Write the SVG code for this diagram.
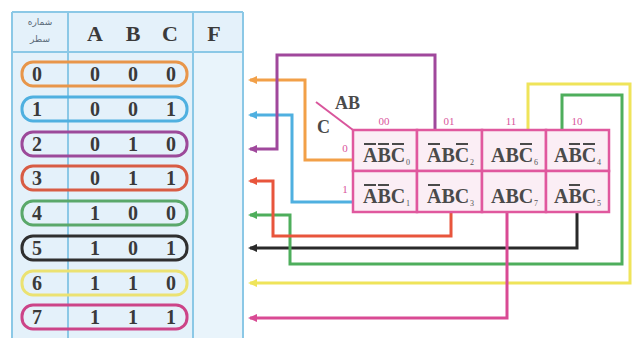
<svg xmlns="http://www.w3.org/2000/svg" width="633" height="343" viewBox="0 0 633 343">
<style>
.tbl{fill:#e4f1fa}
.tl{stroke:#8bc8e6;stroke-width:2;fill:none}
.hd{font-family:"Liberation Serif",serif;font-weight:bold;font-size:22px;fill:#3a3a3a;text-anchor:middle}
.dg{font-family:"Liberation Serif",serif;font-weight:bold;font-size:20px;fill:#3a3a3a;text-anchor:middle}
.fa{font-family:"DejaVu Sans",sans-serif;font-size:9px;fill:#5a6a78;text-anchor:middle}
.pill{fill:none;stroke-width:3}
.cell{fill:#fbeef5;stroke:#e0589e;stroke-width:2.5}
.km{font-family:"Liberation Serif",serif;font-weight:bold;font-size:20px;fill:#4a4a4a}
.sb{font-family:"Liberation Serif",serif;font-size:8px;fill:#555}
.ob{stroke:#4a4a4a;stroke-width:2}
.lb{font-family:"Liberation Serif",serif;font-size:11px;fill:#d9559c;text-anchor:middle}
.ab{font-family:"Liberation Serif",serif;font-weight:bold;font-size:18px;fill:#4a4a4a}
.cn{fill:none;stroke-width:3}
</style>
<defs>
<marker id="aO" markerWidth="9" markerHeight="8" refX="7" refY="4" orient="auto" markerUnits="userSpaceOnUse"><path d="M0,0 L9,4 L0,8 z" fill="#f2a048"/></marker>
<marker id="aB" markerWidth="9" markerHeight="8" refX="7" refY="4" orient="auto" markerUnits="userSpaceOnUse"><path d="M0,0 L9,4 L0,8 z" fill="#4fb0e0"/></marker>
<marker id="aP" markerWidth="9" markerHeight="8" refX="7" refY="4" orient="auto" markerUnits="userSpaceOnUse"><path d="M0,0 L9,4 L0,8 z" fill="#a0489c"/></marker>
<marker id="aR" markerWidth="9" markerHeight="8" refX="7" refY="4" orient="auto" markerUnits="userSpaceOnUse"><path d="M0,0 L9,4 L0,8 z" fill="#e8553c"/></marker>
<marker id="aG" markerWidth="9" markerHeight="8" refX="7" refY="4" orient="auto" markerUnits="userSpaceOnUse"><path d="M0,0 L9,4 L0,8 z" fill="#4eae5c"/></marker>
<marker id="aK" markerWidth="9" markerHeight="8" refX="7" refY="4" orient="auto" markerUnits="userSpaceOnUse"><path d="M0,0 L9,4 L0,8 z" fill="#2a2a2a"/></marker>
<marker id="aY" markerWidth="9" markerHeight="8" refX="7" refY="4" orient="auto" markerUnits="userSpaceOnUse"><path d="M0,0 L9,4 L0,8 z" fill="#efe45a"/></marker>
<marker id="aM" markerWidth="9" markerHeight="8" refX="7" refY="4" orient="auto" markerUnits="userSpaceOnUse"><path d="M0,0 L9,4 L0,8 z" fill="#d94a94"/></marker>
</defs>
<rect width="633" height="343" fill="#ffffff"/>

<g id="table">
<rect class="tbl" x="12" y="12" width="231" height="326"/>
<rect x="193" y="52" width="50" height="286" fill="#e9f4fb"/>
<path class="tl" d="M12,12 H243 M12,52 H243 M12,12 V338 M68,12 V338 M193,12 V338 M243,12 V338"/>
<text class="fa" x="40" y="25">شماره</text>
<text class="fa" x="40" y="42">سطر</text>
<text class="hd" x="95" y="41">A</text>
<text class="hd" x="133" y="41">B</text>
<text class="hd" x="170" y="41">C</text>
<text class="hd" x="214" y="41">F</text>
</g>

<g id="row0"><rect class="pill" stroke="#e8964a" x="22" y="62" width="165" height="24" rx="11"/>
<text class="dg" x="37" y="81">0</text><text class="dg" x="95" y="81">0</text><text class="dg" x="133" y="81">0</text><text class="dg" x="171" y="81">0</text></g>
<g id="row1"><rect class="pill" stroke="#4fb0e0" x="22" y="97" width="165" height="24" rx="11"/>
<text class="dg" x="37" y="116">1</text><text class="dg" x="95" y="116">0</text><text class="dg" x="133" y="116">0</text><text class="dg" x="171" y="116">1</text></g>
<g id="row2"><rect class="pill" stroke="#9c4a9a" x="22" y="132" width="165" height="24" rx="11"/>
<text class="dg" x="37" y="151">2</text><text class="dg" x="95" y="151">0</text><text class="dg" x="133" y="151">1</text><text class="dg" x="171" y="151">0</text></g>
<g id="row3"><rect class="pill" stroke="#d85c44" x="22" y="166" width="165" height="24" rx="11"/>
<text class="dg" x="37" y="185">3</text><text class="dg" x="95" y="185">0</text><text class="dg" x="133" y="185">1</text><text class="dg" x="171" y="185">1</text></g>
<g id="row4"><rect class="pill" stroke="#5aa86a" x="22" y="201" width="165" height="24" rx="11"/>
<text class="dg" x="37" y="220">4</text><text class="dg" x="95" y="220">1</text><text class="dg" x="133" y="220">0</text><text class="dg" x="171" y="220">0</text></g>
<g id="row5"><rect class="pill" stroke="#2f2f2f" x="22" y="236" width="165" height="24" rx="11"/>
<text class="dg" x="37" y="255">5</text><text class="dg" x="95" y="255">1</text><text class="dg" x="133" y="255">0</text><text class="dg" x="171" y="255">1</text></g>
<g id="row6"><rect class="pill" stroke="#ebe272" x="22" y="271" width="165" height="24" rx="11"/>
<text class="dg" x="37" y="290">6</text><text class="dg" x="95" y="290">1</text><text class="dg" x="133" y="290">1</text><text class="dg" x="171" y="290">0</text></g>
<g id="row7"><rect class="pill" stroke="#cc4488" x="22" y="305" width="165" height="24" rx="11"/>
<text class="dg" x="37" y="324">7</text><text class="dg" x="95" y="324">1</text><text class="dg" x="133" y="324">1</text><text class="dg" x="171" y="324">1</text></g>

<g id="connectors">
<path class="cn" stroke="#2a2a2a" d="M577,212 V248 H250" marker-end="url(#aK)"/>
<path class="cn" stroke="#efe45a" d="M528,130 V84 H630 V283 H250" marker-end="url(#aY)"/>
<path class="cn" stroke="#4eae5c" d="M562,130 V95 H622 V264 H290 V215 H250" marker-end="url(#aG)"/>
<path class="cn" stroke="#e8553c" d="M451,212 V236 H273 V181 H250" marker-end="url(#aR)"/>
<path class="cn" stroke="#d94a94" d="M507,212 V318 H250" marker-end="url(#aM)"/>
<path class="cn" stroke="#4fb0e0" d="M352,202 H292 V115 H250" marker-end="url(#aB)"/>
<path class="cn" stroke="#f2a048" d="M352,160 H305 V80 H250" marker-end="url(#aO)"/>
<path class="cn" stroke="#a0489c" d="M435,130 V55 H277 V149 H250" marker-end="url(#aP)"/>
</g>

<g id="kmap-labels">
<line x1="316" y1="102" x2="353" y2="130" stroke="#d9559c" stroke-width="2"/>
<text class="ab" x="335" y="109">AB</text>
<text class="ab" x="317" y="133">C</text>
<text class="lb" x="384" y="125">00</text>
<text class="lb" x="449" y="125">01</text>
<text class="lb" x="511" y="125">11</text>
<text class="lb" x="577" y="125">10</text>
<text class="lb" x="345" y="152">0</text>
<text class="lb" x="345" y="193">1</text>
</g>

<g id="m0"><rect class="cell" x="353" y="130" width="64" height="41"/>
<text class="km" y="162"><tspan x="363">A</tspan><tspan x="377.4">B</tspan><tspan x="390.7">C</tspan></text>
<path class="ob" d="M364,144 H376 M378,144 H389 M392,144 H404"/><text class="sb" x="406" y="165">0</text></g>
<g id="m2"><rect class="cell" x="417" y="130" width="65" height="41"/>
<text class="km" y="162"><tspan x="427">A</tspan><tspan x="441.4">B</tspan><tspan x="454.7">C</tspan></text>
<path class="ob" d="M428,144 H440 M456,144 H468"/><text class="sb" x="470" y="165">2</text></g>
<g id="m6"><rect class="cell" x="482" y="130" width="64" height="41"/>
<text class="km" y="162"><tspan x="491">A</tspan><tspan x="505.4">B</tspan><tspan x="518.7">C</tspan></text>
<path class="ob" d="M520,144 H532"/><text class="sb" x="534" y="165">6</text></g>
<g id="m4"><rect class="cell" x="546" y="130" width="63" height="41"/>
<text class="km" y="162"><tspan x="554">A</tspan><tspan x="568.4">B</tspan><tspan x="581.7">C</tspan></text>
<path class="ob" d="M569,144 H580 M583,144 H595"/><text class="sb" x="597" y="165">4</text></g>
<g id="m1"><rect class="cell" x="353" y="171" width="64" height="41"/>
<text class="km" y="203"><tspan x="363">A</tspan><tspan x="377.4">B</tspan><tspan x="390.7">C</tspan></text>
<path class="ob" d="M364,185 H376 M378,185 H389"/><text class="sb" x="406" y="206">1</text></g>
<g id="m3"><rect class="cell" x="417" y="171" width="65" height="41"/>
<text class="km" y="203"><tspan x="427">A</tspan><tspan x="441.4">B</tspan><tspan x="454.7">C</tspan></text>
<path class="ob" d="M428,185 H440"/><text class="sb" x="470" y="206">3</text></g>
<g id="m7"><rect class="cell" x="482" y="171" width="64" height="41"/>
<text class="km" y="203"><tspan x="491">A</tspan><tspan x="505.4">B</tspan><tspan x="518.7">C</tspan></text>
<text class="sb" x="534" y="206">7</text></g>
<g id="m5"><rect class="cell" x="546" y="171" width="63" height="41"/>
<text class="km" y="203"><tspan x="554">A</tspan><tspan x="568.4">B</tspan><tspan x="581.7">C</tspan></text>
<path class="ob" d="M569,185 H580"/><text class="sb" x="597" y="206">5</text></g>
</svg>
